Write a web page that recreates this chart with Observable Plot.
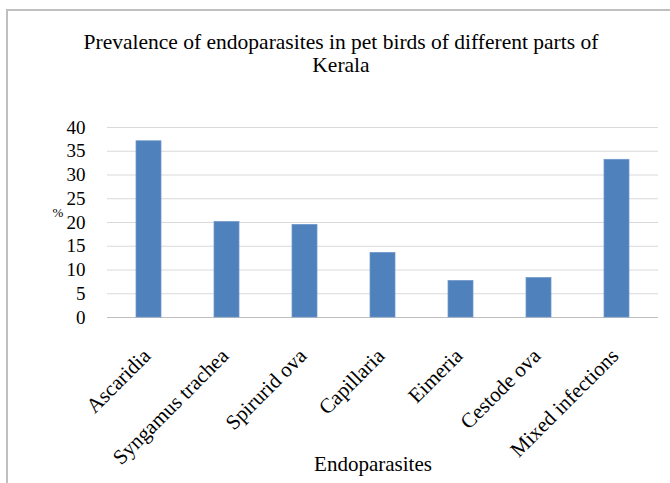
<!DOCTYPE html>
<html>
<head>
<meta charset="utf-8">
<script src="https://cdn.jsdelivr.net/npm/d3@7"></script>
<script src="https://cdn.jsdelivr.net/npm/@observablehq/plot@0.6"></script>
<style>
  html, body { margin: 0; padding: 0; background: #fff; }
  #wrap { position: relative; width: 670px; height: 483px; overflow: hidden; font-family: "Liberation Serif", "Times New Roman", Times, serif; }
  #frame { position: absolute; left: 6px; top: 9px; width: 720px; height: 600px; border: 2px solid #BFBFBF; box-sizing: border-box; }
  #title { position: relative; height: 100px; box-sizing: border-box; padding-top: 31px; padding-left: 12px; text-align: center; font-size: 21.5px; line-height: 23px; color: #000; white-space: nowrap; }
  #chart { position: relative; }
  #chart svg { display: block; }
</style>
</head>
<body>
<div id="wrap">
  <div id="frame"></div>
  <div id="title">Prevalence of endoparasites in pet birds of different parts of<br>Kerala</div>
  <div id="chart"></div>
</div>
<script>
const categories = ["Ascaridia", "Syngamus trachea", "Spirurid ova", "Capillaria", "Eimeria", "Cestode ova", "Mixed infections"];
const values = [37.1, 20.1, 19.5, 13.6, 7.7, 8.3, 33.2];
const yTicks = [0, 5, 10, 15, 20, 25, 30, 35, 40];
const xTitle = "Endoparasites";
const yTitle = "%";

const data = categories.map((name, i) => ({name, value: values[i]}));
const font = '"Liberation Serif", "Times New Roman", Times, serif';

const chart = Plot.plot({
  width: 670,
  height: 383,
  marginTop: 27,
  marginBottom: 166,
  marginLeft: 107,
  marginRight: 12,
  style: {fontFamily: font, color: "#000", background: "transparent", overflow: "visible"},
  x: {domain: categories, paddingInner: 0.68, paddingOuter: 0.34, axis: null},
  y: {domain: [0, 40], axis: null},
  marks: [
    Plot.gridY(yTicks, {stroke: "#D9D9D9", strokeOpacity: 1, strokeWidth: 1}),
    Plot.ruleY([0], {stroke: "#BFBFBF", strokeWidth: 1}),
    Plot.barY(data, {x: "name", y: "value", fill: "#4F81BD", stroke: "#6F97CB", strokeWidth: 0.75}),
    Plot.axisY(yTicks, {tickSize: 0, tickPadding: 22, fontSize: 19, fontFamily: font, fill: "#000", label: null}),
    Plot.text(categories, {x: d => d, y: () => 0, rotate: -45, textAnchor: "end", dx: -2, dy: 35, fontSize: 21, fontFamily: font, fill: "#000"}),
    Plot.text([xTitle], {frameAnchor: "bottom", dx: -10, dy: 153, fontSize: 21, fontFamily: font, fill: "#000"}),
    Plot.text([yTitle], {frameAnchor: "left", dx: -55, dy: -10, fontSize: 13, fontFamily: font, fill: "#000"})
  ]
});
document.getElementById("chart").appendChild(chart);
</script>
</body>
</html>
